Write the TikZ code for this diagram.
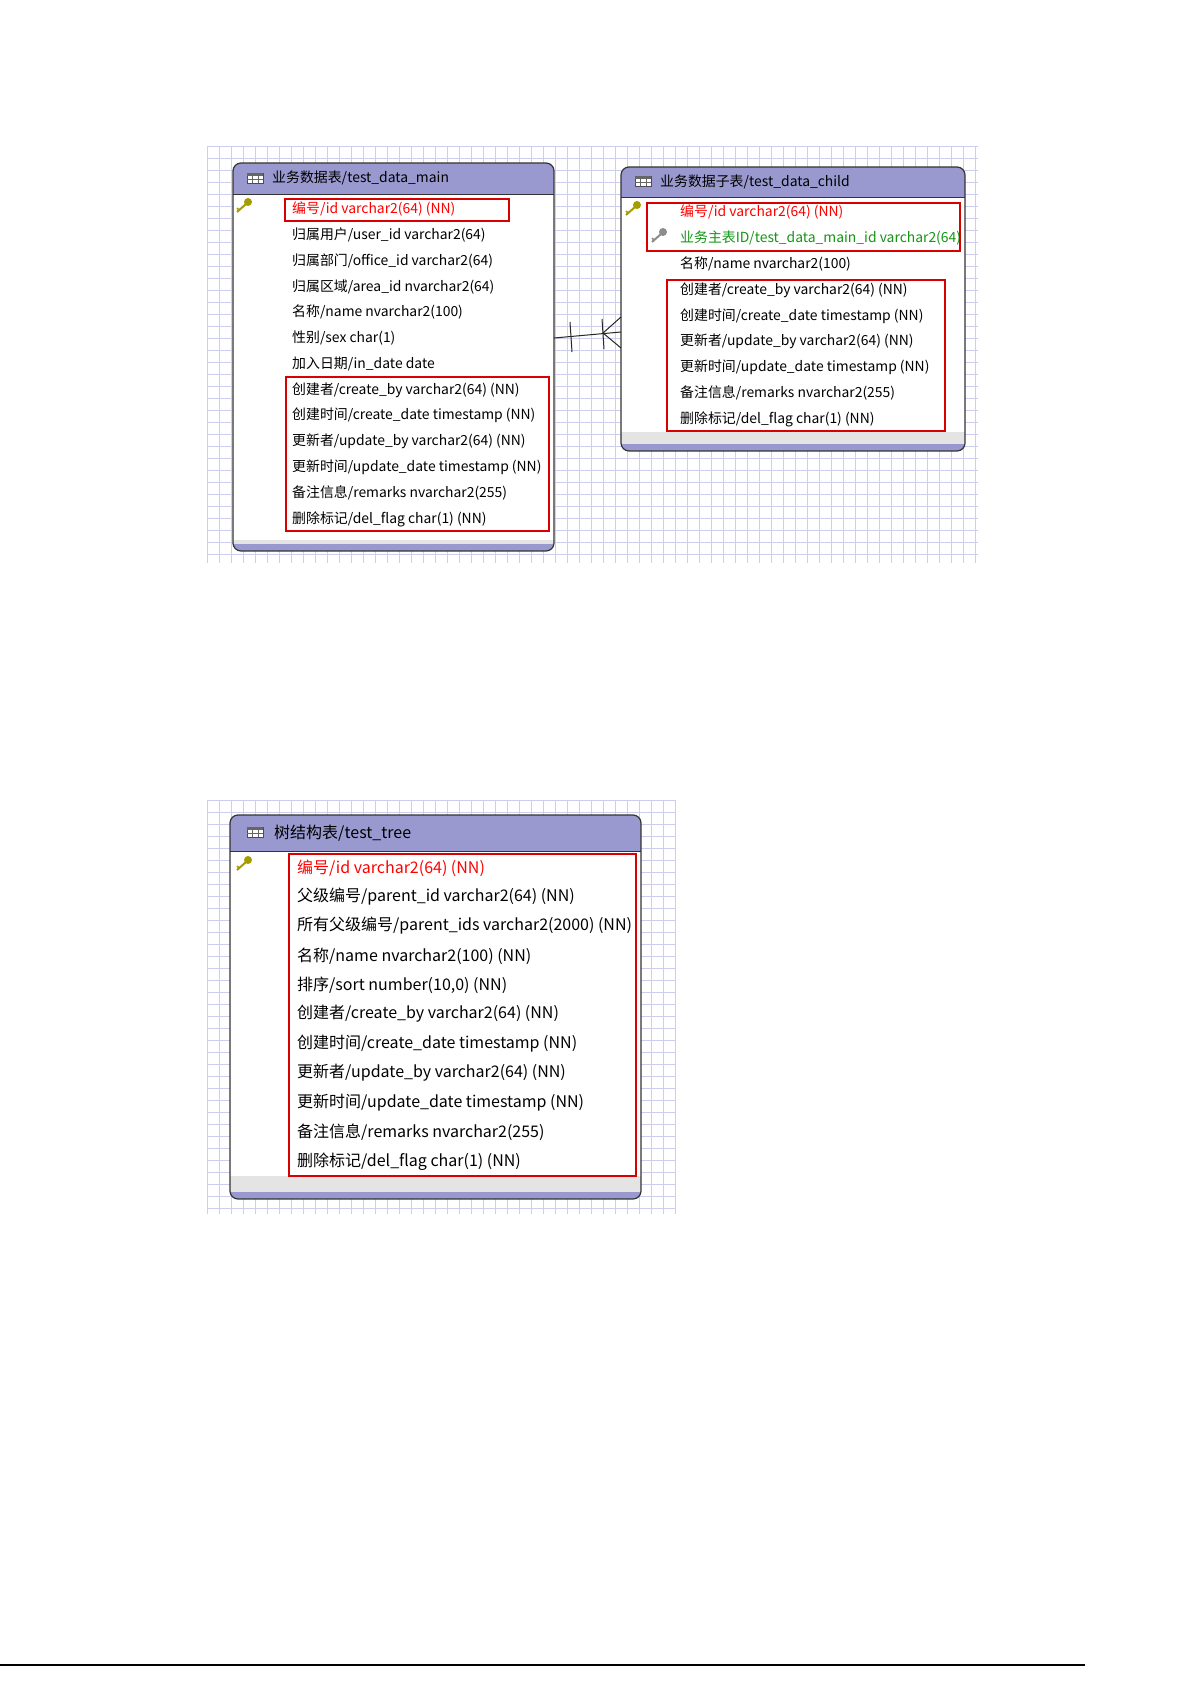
\documentclass[tikz,border=0pt]{standalone}
\usepackage{fontspec}
\setmainfont{Noto Sans CJK SC}
\begin{document}
\begin{tikzpicture}[x=1pt,y=-1pt,
  row/.style={anchor=west,inner sep=0pt,font=\fontsize{13.9}{14}\selectfont},
  rowb/.style={anchor=west,inner sep=0pt,font=\fontsize{16}{16}\selectfont},
  redbox/.style={draw=red!85!black,line width=1.1pt},
  gridl/.style={draw=gridc,line width=0.6pt},
  tbl/.style={draw=black!80,line width=1.2pt,rounded corners=8pt}]
\definecolor{hdrc}{RGB}{153,153,208}
\definecolor{gridc}{RGB}{205,205,240}
\definecolor{grn}{RGB}{20,150,20}
\definecolor{stripc}{RGB}{228,228,228}
\useasboundingbox (0,0) rectangle (1192,1685);
\fill[white] (0,0) rectangle (1192,1685);
% grids
\foreach \x in {207,219,...,978} \draw[gridl] (\x,146) -- (\x,563);
\foreach \y in {146,158,...,563} \draw[gridl] (207,\y) -- (978,\y);
\foreach \x in {207,219,...,676} \draw[gridl] (\x,800) -- (\x,1214);
\foreach \y in {800,812,...,1214} \draw[gridl] (207,\y) -- (676,\y);
\newcommand{\etable}[6]{%
  \fill[white,rounded corners=8pt] (#1,#2) rectangle (#3,#4);
  \begin{scope}\clip[rounded corners=8pt] (#1,#2) rectangle (#3,#4);
  \fill[hdrc] (#1,#2) rectangle (#3,#5);
  \fill[stripc] (#1,#6) rectangle (#3,#4);
  \fill[hdrc] (#1,#4-7) rectangle (#3,#4);
  \end{scope}
  \draw[black!80,line width=1pt] (#1,#5) -- (#3,#5);
  \draw[tbl] (#1,#2) rectangle (#3,#4);
}
\newcommand{\ticon}[2]{%
  \draw[black!70,fill=white,line width=0.6pt] (#1-8,#2-5) rectangle (#1+8,#2+5);
  \fill[black!60] (#1-8,#2-5) rectangle (#1+8,#2-2);
  \draw[black!60,line width=0.5pt] (#1-3,#2-2) -- (#1-3,#2+5) (#1+3,#2-2) -- (#1+3,#2+5) (#1-8,#2+1.5) -- (#1+8,#2+1.5);}
\newcommand{\keyicon}[3]{%
  \draw[#3,line width=2pt] (#1-6,#2+5) -- (#1+3,#2-3);
  \fill[#3] (#1+5,#2-5) circle (4);
  \draw[#3,line width=1.5pt] (#1-4,#2+3) -- (#1-6,#2+1);}
% ---------- main table
\etable{233}{163}{554}{551}{195}{540}
\ticon{255}{178}
\node[row] (m0) at (272,178) {业务数据表/test\_data\_main};
\keyicon{243}{207}{olive!80!yellow}
\node[row,red] (m1) at (292,209) {编号/id varchar2(64) (NN)};
\node[row] (m2) at (292,235) {归属用户/user\_id varchar2(64)};
\node[row] (m3) at (292,261) {归属部门/office\_id varchar2(64)};
\node[row] (m4) at (292,287) {归属区域/area\_id nvarchar2(64)};
\node[row] (m5) at (292,312) {名称/name nvarchar2(100)};
\node[row] (m6) at (292,338) {性别/sex char(1)};
\node[row] (m7) at (292,364) {加入日期/in\_date date};
\node[row] (m8) at (292,390) {创建者/create\_by varchar2(64) (NN)};
\node[row] (m9) at (292,415) {创建时间/create\_date timestamp (NN)};
\node[row] (m10) at (292,441) {更新者/update\_by varchar2(64) (NN)};
\node[row] (m11) at (292,467) {更新时间/update\_date timestamp (NN)};
\node[row] (m12) at (292,493) {备注信息/remarks nvarchar2(255)};
\node[row] (m13) at (292,519) {删除标记/del\_flag char(1) (NN)};
\draw[redbox] (285,199) rectangle (509,221);
\draw[redbox] (286,377) rectangle (549,531);
% ---------- child table
\etable{621}{167}{965}{451}{198}{432}
\ticon{643}{181}
\node[row] (c0) at (660,182) {业务数据子表/test\_data\_child};
\keyicon{632}{210}{olive!80!yellow}
\keyicon{658}{237}{black!45}
\node[row,red] (c1) at (680,212) {编号/id varchar2(64) (NN)};
\node[row,grn] (c2) at (680,238) {业务主表ID/test\_data\_main\_id varchar2(64)};
\node[row] (c3) at (680,264) {名称/name nvarchar2(100)};
\node[row] (c4) at (680,290) {创建者/create\_by varchar2(64) (NN)};
\node[row] (c5) at (680,316) {创建时间/create\_date timestamp (NN)};
\node[row] (c6) at (680,341) {更新者/update\_by varchar2(64) (NN)};
\node[row] (c7) at (680,367) {更新时间/update\_date timestamp (NN)};
\node[row] (c8) at (680,393) {备注信息/remarks nvarchar2(255)};
\node[row] (c9) at (680,419) {删除标记/del\_flag char(1) (NN)};
\draw[redbox] (647,203) rectangle (960,251);
\draw[redbox] (667,280) rectangle (945,431);
% connector
\coordinate (ca) at (554,338);
\coordinate (cb) at (621,332);
\draw[black!85,line width=1pt] (ca) -- (cb);
\draw[black!85,line width=1pt] (570,322) -- (572,352);
\draw[black!85,line width=1pt] (602,319) -- (604,349);
\draw[black!85,line width=1pt] (603,333) -- (621,317) (603,333) -- (621,348);
% ---------- tree table
\etable{230}{815}{641}{1199}{851}{1176}
\ticon{255}{832}
\node[rowb] (t0) at (274,833) {树结构表/test\_tree};
\keyicon{243}{865}{olive!80!yellow}
\node[rowb,red] (t1) at (297,868) {编号/id varchar2(64) (NN)};
\node[rowb] (t2) at (297,897) {父级编号/parent\_id varchar2(64) (NN)};
\node[rowb] (t3) at (297,926) {所有父级编号/parent\_ids varchar2(2000) (NN)};
\node[rowb] (t4) at (297,956) {名称/name nvarchar2(100) (NN)};
\node[rowb] (t5) at (297,985) {排序/sort number(10,0) (NN)};
\node[rowb] (t6) at (297,1014) {创建者/create\_by varchar2(64) (NN)};
\node[rowb] (t7) at (297,1044) {创建时间/create\_date timestamp (NN)};
\node[rowb] (t8) at (297,1073) {更新者/update\_by varchar2(64) (NN)};
\node[rowb] (t9) at (297,1103) {更新时间/update\_date timestamp (NN)};
\node[rowb] (t10) at (297,1132) {备注信息/remarks nvarchar2(255)};
\node[rowb] (t11) at (297,1162) {删除标记/del\_flag char(1) (NN)};
\draw[redbox] (289,854) rectangle (636,1176);
% page rule
\draw[black,line width=1.2pt] (0,1665) -- (1085,1665);
\end{tikzpicture}
\end{document}
